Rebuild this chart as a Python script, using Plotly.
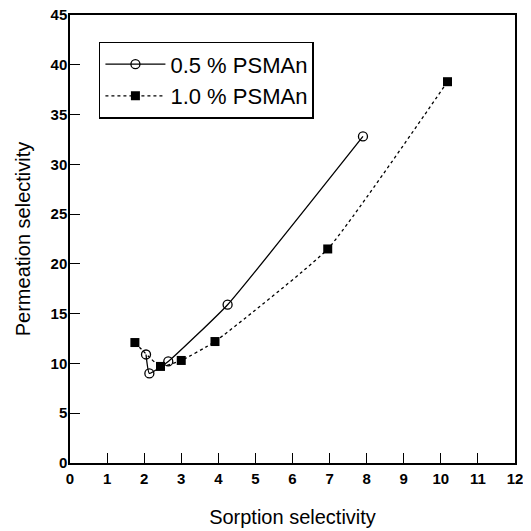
import plotly.graph_objects as go

# Data
x_05 = [2.05, 2.14, 2.65, 4.25, 7.9]
y_05 = [10.9, 9.0, 10.2, 15.9, 32.8]
x_10 = [1.75, 2.44, 3.0, 3.91, 6.95, 10.18]
y_10 = [12.1, 9.7, 10.3, 12.2, 21.5, 38.3]

x_ticks = list(range(0, 13))
y_ticks = list(range(0, 46, 5))

FONT = "Arial, Liberation Sans, sans-serif"

fig = go.Figure()
fig.add_trace(go.Scatter(
    x=x_05, y=y_05, mode="lines+markers", name="0.5 % PSMAn",
    line=dict(color="black", width=1.3, shape="spline", smoothing=0.4),
    marker=dict(symbol="circle-open", size=9, color="black", line=dict(width=1.3)),
))
fig.add_trace(go.Scatter(
    x=x_10, y=y_10, mode="lines+markers", name="1.0 % PSMAn",
    line=dict(color="black", width=1.3, dash="dot", shape="spline", smoothing=0.4),
    marker=dict(symbol="square", size=9, color="black"),
))

axis_common = dict(
    showline=True, linecolor="black", linewidth=1.5, mirror=True,
    showgrid=False, zeroline=False, ticks="inside", ticklen=10,
    tickcolor="black", tickwidth=1.2,
    tickfont=dict(family=FONT, size=15, color="black", weight="bold"),
    ticklabeloverflow="allow",
    automargin=False,
)
fig.update_xaxes(
    range=[0, 12], tickvals=x_ticks, ticklabelstandoff=1,
    title=dict(text="Sorption selectivity", standoff=24,
               font=dict(family=FONT, size=20, color="black")),
    **axis_common,
)
fig.update_yaxes(
    range=[0, 45], tickvals=y_ticks, ticklabelstandoff=-2,
    title=dict(text="Permeation selectivity", font=dict(family=FONT, size=20, color="black")),
    **axis_common,
)
fig.update_layout(
    width=523, height=523,
    margin=dict(l=62, r=16, t=7, b=68),
    plot_bgcolor="white", paper_bgcolor="white",
    showlegend=True,
    legend=dict(
        x=0.065, y=0.94, xanchor="left", yanchor="top",
        bordercolor="black", borderwidth=1.5, bgcolor="white",
        font=dict(family=FONT, size=22, color="black"),
        itemwidth=60,
    ),
)
fig.write_html("out.html")
